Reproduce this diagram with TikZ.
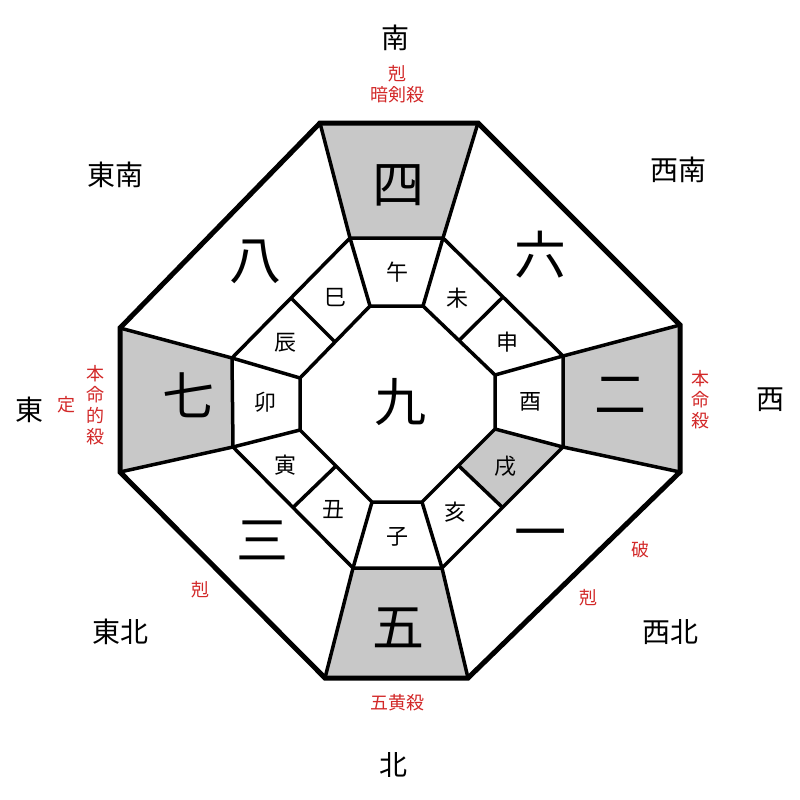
\documentclass[tikz,border=0pt]{standalone}
\usepackage{fontspec}
\usetikzlibrary{calc}
\newfontfamily\jp{Noto Sans CJK JP}
\definecolor{cellgray}{RGB}{200,200,200}
\definecolor{markred}{RGB}{210,40,40}
\tikzset{
  star/.style={font=\jp\fontsize{52}{52}\selectfont},
  branch/.style={font=\jp\fontsize{22}{22}\selectfont},
  dir/.style={font=\jp\fontsize{28}{28}\selectfont},
  redmark/.style={font=\jp\fontsize{18}{21}\selectfont, text=markred, align=center},
  wall/.style={line width=5pt, line join=miter},
  inwall/.style={line width=3.5pt, line join=miter},
}
\begin{document}
\begin{tikzpicture}[x=1pt,y=-1pt]
    \useasboundingbox (0,0) rectangle (800,800);
    % outer octagon
    \coordinate (o1) at (320,123); \coordinate (o2) at (478,123);
    \coordinate (o3) at (680,325); \coordinate (o4) at (680,472);
    \coordinate (o5) at (468,678); \coordinate (o6) at (325,678);
    \coordinate (o7) at (120,472); \coordinate (o8) at (120,328);
    % middle octagon
    \coordinate (m1) at (350,238); \coordinate (m2) at (443,238);
    \coordinate (m3) at (563,356); \coordinate (m4) at (563,447);
    \coordinate (m5) at (442,568); \coordinate (m6) at (353,568);
    \coordinate (m7) at (233,447); \coordinate (m8) at (232,358);
    % inner octagon
    \coordinate (i1) at (370,306); \coordinate (i2) at (423,306);
    \coordinate (i3) at (495,375); \coordinate (i4) at (495,429);
    \coordinate (i5) at (422,502); \coordinate (i6) at (372,502);
    \coordinate (i7) at (300,430); \coordinate (i8) at (300,378);
    % shaded sectors
    \fill[cellgray] (o1) -- (o2) -- (m2) -- (m1) -- cycle;
    \fill[cellgray] (o3) -- (o4) -- (m4) -- (m3) -- cycle;
    \fill[cellgray] (o5) -- (o6) -- (m6) -- (m5) -- cycle;
    \fill[cellgray] (o7) -- (o8) -- (m8) -- (m7) -- cycle;
    \fill[cellgray] (i4) -- (m4) -- ($(m4)!0.5!(m5)$) -- ($(i4)!0.5!(i5)$) -- cycle;
    % walls
    \draw[wall] (o1) -- (o2) -- (o3) -- (o4) -- (o5) -- (o6) -- (o7) -- (o8) -- cycle;
    \draw[inwall] (m1) -- (m2) -- (m3) -- (m4) -- (m5) -- (m6) -- (m7) -- (m8) -- cycle;
    \draw[inwall] (i1) -- (i2) -- (i3) -- (i4) -- (i5) -- (i6) -- (i7) -- (i8) -- cycle;
    \foreach \k in {1,...,8} {
      \draw[inwall] (o\k) -- (m\k);
      \draw[inwall] (m\k) -- (i\k);
    }
    \foreach \a/\b in {8/1,2/3,4/5,6/7}
      \draw[inwall] ($(m\a)!0.5!(m\b)$) -- ($(i\a)!0.5!(i\b)$);
    % stars
    \node[star] (s4) at (398,185) {四};
    \node[star] (s6) at (540,255) {六};
    \node[star] (s2) at (620,395) {二};
    \node[star] (s1) at (540,540) {一};
    \node[star] (s5) at (398,628) {五};
    \node[star] (s3) at (262,540) {三};
    \node[star] (s7) at (188,395) {七};
    \node[star] (s8) at (255,262) {八};
    \node[star] (s9) at (400,402) {九};
    % branches
    \node[branch] (b1) at (397,272) {午};
    \node[branch] (b2) at (457,298) {未};
    \node[branch] (b3) at (507,342) {申};
    \node[branch] (b4) at (530,402) {酉};
    \node[branch] (b5) at (505,466) {戌};
    \node[branch] (b6) at (455,512) {亥};
    \node[branch] (b7) at (397,537) {子};
    \node[branch] (b8) at (333,510) {丑};
    \node[branch] (b9) at (285,465) {寅};
    \node[branch] (b10) at (265,402) {卯};
    \node[branch] (b11) at (285,343) {辰};
    \node[branch] (b12) at (335,298) {巳};
    % directions
    \node[dir] (dS) at (395,38) {南};
    \node[dir] (dSE) at (115,175) {東南};
    \node[dir] (dSW) at (678,170) {西南};
    \node[dir] (dE) at (30,410) {東};
    \node[dir] (dW) at (770,400) {西};
    \node[dir] (dNE) at (120,632) {東北};
    \node[dir] (dNW) at (670,632) {西北};
    \node[dir] (dN) at (393,765) {北};
    % marks
    \node[redmark] (mS) at (397,84) {剋\\暗剣殺};
    \node[redmark] (mE) at (95,405) {本\\命\\的\\殺};
    \node[redmark] (mE2) at (66,405) {定};
    \node[redmark] (mW) at (700,400) {本\\命\\殺};
    \node[redmark] (mNE) at (200,590) {剋};
    \node[redmark] (mNW1) at (640,550) {破};
    \node[redmark] (mNW2) at (588,598) {剋};
    \node[redmark] (mN) at (397,703) {五黄殺};
\end{tikzpicture}
\end{document}
